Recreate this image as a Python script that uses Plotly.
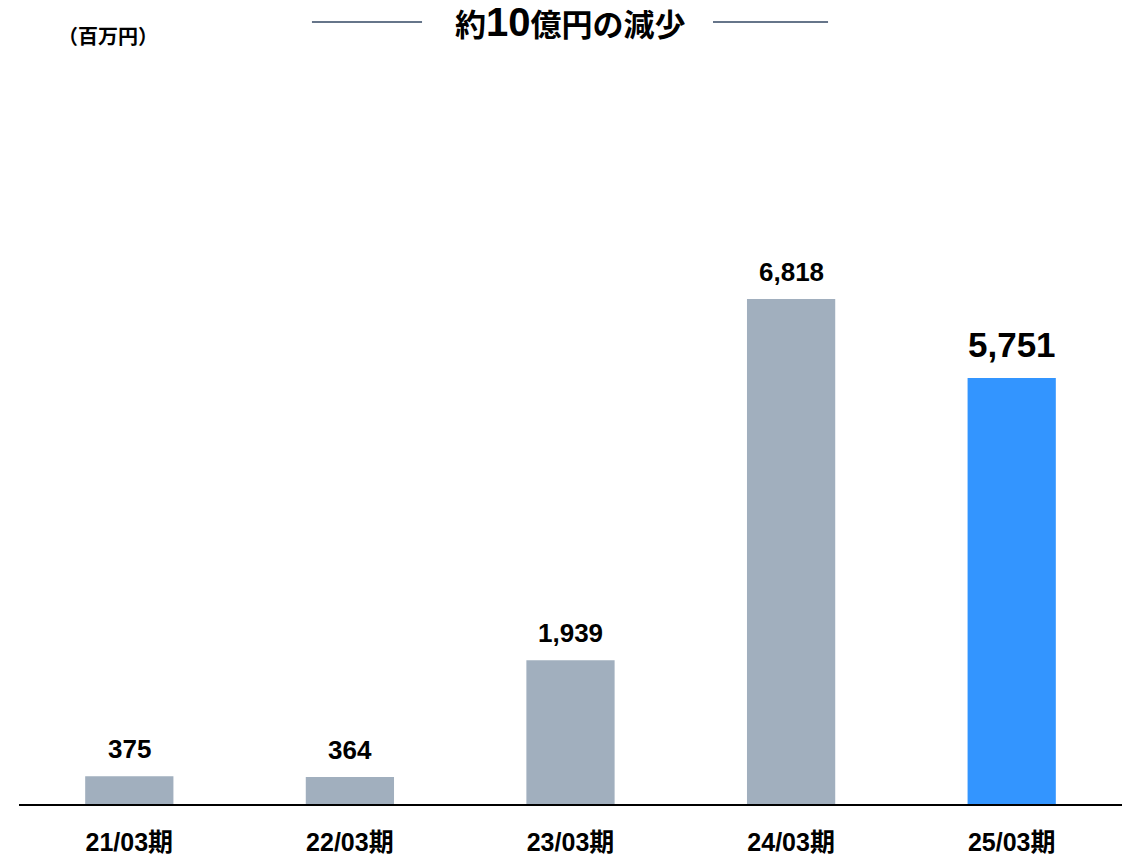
import plotly.graph_objects as go

# Fiscal periods and values (million yen)
periods = ["21/03期", "22/03期", "23/03期", "24/03期", "25/03期"]
values = [375, 364, 1939, 6818, 5751]
bar_colors = ["#a1afbe", "#a1afbe", "#a1afbe", "#a1afbe", "#3395ff"]
label_sizes = [26, 26, 26, 26, 35]
label_shifts = [10, 10, 10, 10, 12]

FONT = "Liberation Sans, Arial, Noto Sans CJK JP, sans-serif"

fig = go.Figure(
    go.Bar(
        x=periods,
        y=values,
        marker=dict(color=bar_colors, line=dict(width=0)),
        hoverinfo="skip",
    )
)

# Value labels above each bar
for p, v, s, sh in zip(periods, values, label_sizes, label_shifts):
    fig.add_annotation(
        x=p, y=v, xref="x", yref="y",
        text=f"<b>{v:,}</b>",
        showarrow=False,
        yanchor="bottom",
        yshift=sh,
        font=dict(family=FONT, size=s, color="#000000"),
    )

# Unit label
fig.add_annotation(
    x=0.0807, y=1.0336, xref="paper", yref="paper",
    text="<b>（百万円）</b>",
    showarrow=False,
    xanchor="center", yanchor="middle",
    font=dict(family="Noto Sans CJK JP, sans-serif", size=20, color="#000000"),
)

# Headline with flanking rules
fig.add_annotation(
    x=0.5, y=1.0511, xref="paper", yref="paper",
    text="<b>約<span style='font-size:40px'>10</span>億円の減少</b>",
    showarrow=False,
    xanchor="center", yanchor="middle",
    font=dict(family=FONT, size=31, color="#000000"),
)
for x0, x1 in [(0.2656, 0.3654), (0.6292, 0.7335)]:
    fig.add_shape(
        type="line", xref="paper", yref="paper",
        x0=x0, x1=x1, y0=1.0511, y1=1.0511,
        line=dict(color="#66758a", width=2),
    )

fig.update_layout(
    width=1132,
    height=856,
    margin=dict(l=19, r=10, t=60, b=52),
    paper_bgcolor="white",
    plot_bgcolor="white",
    bargap=0.6,
    showlegend=False,
    font=dict(family=FONT, color="#000000"),
)
fig.update_xaxes(
    showline=True, linecolor="#000000", linewidth=2,
    showgrid=False, zeroline=False, automargin=False,
    ticks="", ticklabelstandoff=15,
    tickfont=dict(family=FONT, size=25, color="#000000", weight="bold"),
)
fig.update_yaxes(
    range=[0, 10044], automargin=False,
    visible=False, showgrid=False, zeroline=False,
)

fig.write_html("out.html")
